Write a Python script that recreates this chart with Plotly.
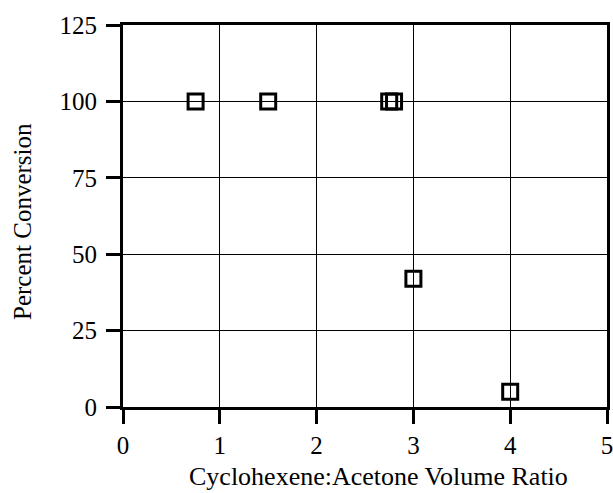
import plotly.graph_objects as go

x_ratio = [0.75, 1.5, 2.75, 2.8, 3.0, 4.0]
y_conversion = [100, 100, 100, 100, 42, 5]
x_ticks = [0, 1, 2, 3, 4, 5]
y_ticks = [0, 25, 50, 75, 100, 125]
x_title = "Cyclohexene:Acetone Volume Ratio"
y_title = "Percent Conversion"

FONT = "Liberation Serif"
L, R, T, B = 123, 607, 25, 407

fig = go.Figure()
fig.add_trace(go.Scatter(
    x=x_ratio, y=y_conversion, mode="markers",
    marker=dict(symbol="square-open", size=15, color="black",
                line=dict(width=3, color="black")),
    showlegend=False, cliponaxis=False,
))

axis_common = dict(
    showline=True, linewidth=3, linecolor="black", mirror=True,
    showgrid=True, gridcolor="black", gridwidth=1,
    ticks="outside", ticklen=14, tickwidth=3, tickcolor="black",
    zeroline=False, automargin=False, ticklabeloverflow="allow",
    tickfont=dict(family=FONT, size=25, color="black"),
)

fig.update_xaxes(range=[0, 5], tickvals=x_ticks,
                 ticktext=[str(v) for v in x_ticks], **axis_common)
fig.update_yaxes(range=[0, 125], tickvals=y_ticks,
                 ticktext=[str(v) for v in y_ticks],
                 ticklabelstandoff=4, **axis_common)

fig.add_annotation(text=x_title, xref="paper", yref="paper",
                   x=(378 - L) / (R - L), y=-(476 - B) / (B - T),
                   showarrow=False, xanchor="center", yanchor="middle",
                   borderpad=0,
                   font=dict(family=FONT, size=26, color="black"))
fig.add_annotation(text=y_title, xref="paper", yref="paper",
                   x=-(L - 22) / (R - L), y=(B - 222) / (B - T),
                   showarrow=False, xanchor="center", yanchor="middle",
                   textangle=-90,
                   font=dict(family=FONT, size=25, color="black"))

fig.update_layout(
    width=613, height=493,
    margin=dict(l=L, r=613 - R, t=T, b=493 - B),
    paper_bgcolor="white", plot_bgcolor="white",
)

fig.write_html("out.html",
               config={"displayModeBar": False},
               post_script="document.body.style.margin='0px';"
                           "document.body.style.overflow='hidden';")
